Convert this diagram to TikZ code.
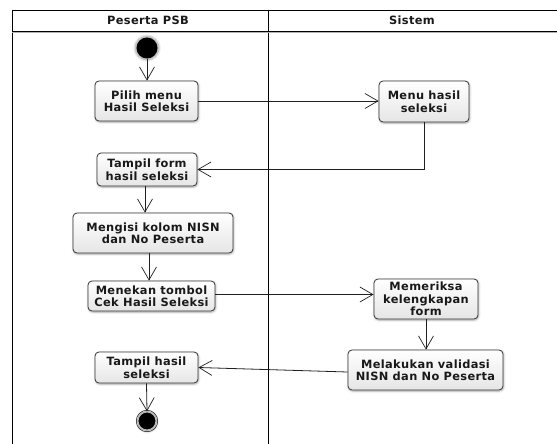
\documentclass[tikz,border=0pt]{standalone}
\usepackage{fontspec}
\setmainfont{DejaVu Sans}
\newfontfamily\labelfont[LetterSpace=3]{DejaVu Sans}
\usetikzlibrary{arrows.meta,shadows.blur}
\begin{document}
\begin{tikzpicture}[x=1pt,y=-1pt,
  act/.style={draw=gray!40!black, line width=0.8pt, rounded corners=4pt,
    top color=white, bottom color=gray!20, align=center, text=black!90,
    font=\labelfont\fontsize{11.4}{12.5}\selectfont\bfseries, inner sep=1pt,
    blur shadow={shadow blur steps=6, shadow xshift=0.6pt, shadow yshift=-1pt, shadow opacity=35}},
  flow/.style={draw=gray!25!black, line width=0.8pt,
    -{Straight Barb[length=13pt,width=15pt,line width=0.7pt]}},
  lane/.style={draw=black, line width=0.9pt},
  head/.style={font=\labelfont\fontsize{11.4}{13}\selectfont\bfseries, text=black!90}]
\useasboundingbox (0,0) rectangle (557,444);

% swimlane frame
\draw[lane] (12,444) -- (12,10) -- (557,10);
\draw[lane] (268,10) -- (268,444);
\draw[line width=0.8pt, black] (12,31) -- (557,31);
\draw[line width=0.8pt, gray!60] (12,32.2) -- (557,32.2);
\node[head] (laneA) at (148,20.5) {Peserta PSB};
\node[head] (laneB) at (412,20.5) {Sistem};

% start and end
\node[circle, fill=black, minimum size=21pt, inner sep=0pt,
  blur shadow={shadow blur steps=6, shadow xshift=0pt, shadow yshift=0pt, shadow scale=1.12, shadow opacity=40}] (start) at (147,48) {};
\node[circle, fill=black, draw=black, line width=0.5pt, double=gray!55, double distance=2pt,
  minimum size=19pt, inner sep=0pt,
  blur shadow={shadow blur steps=6, shadow xshift=0.5pt, shadow yshift=-1pt, shadow opacity=35}] (stop) at (147,421) {};

% actions of the participant
\node[act, minimum width=103pt, minimum height=40pt] (pilih) at (146.5,101) {Pilih menu\\Hasil Seleksi};
\node[act, minimum width=100pt, minimum height=33pt] (tform) at (147,169.5) {Tampil form\\hasil seleksi};
\node[act, minimum width=160pt, minimum height=40pt] (isi) at (153,233) {Mengisi kolom NISN\\dan No Peserta};
\node[act, minimum width=127pt, minimum height=30pt] (tekan) at (151.5,296) {Menekan tombol\\Cek Hasil Seleksi};
\node[act, minimum width=103pt, minimum height=31pt] (thasil) at (146.5,367.5) {Tampil hasil\\seleksi};

% actions of the system
\node[act, minimum width=90pt, minimum height=41pt] (menu) at (424,101.5) {Menu hasil\\seleksi};
\node[act, minimum width=104pt, minimum height=40pt] (periksa) at (426,299) {Memeriksa\\kelengkapan\\form};
\node[act, minimum width=155pt, minimum height=40pt] (valid) at (425.5,370) {Melakukan validasi\\NISN dan No Peserta};

% control flow
\coordinate (tekanOut) at ([yshift=1.5pt]tekan.east);
\coordinate (tformOut) at ([xshift=-2pt]tform.south);
\coordinate (isiOut) at ([xshift=-4pt]isi.south);
\coordinate (validOut) at ([yshift=-2pt]valid.west);
\draw[flow] (start) -- (start |- pilih.north);
\draw[flow] (pilih.east) -- (menu.west |- pilih.east);
\draw[flow] (menu.south) |- (tform.east);
\draw[flow] (tformOut) -- (tformOut |- isi.north);
\draw[flow] (isiOut) -- (isiOut |- tekan.north);
\draw[flow] (tekanOut) -- (periksa.west |- tekanOut);
\draw[flow] (periksa.south) -- (periksa.south |- valid.north);
\draw[flow] (validOut) -- (thasil.east);
\draw[flow] (thasil.south) -- (stop.north);
\end{tikzpicture}
\end{document}
